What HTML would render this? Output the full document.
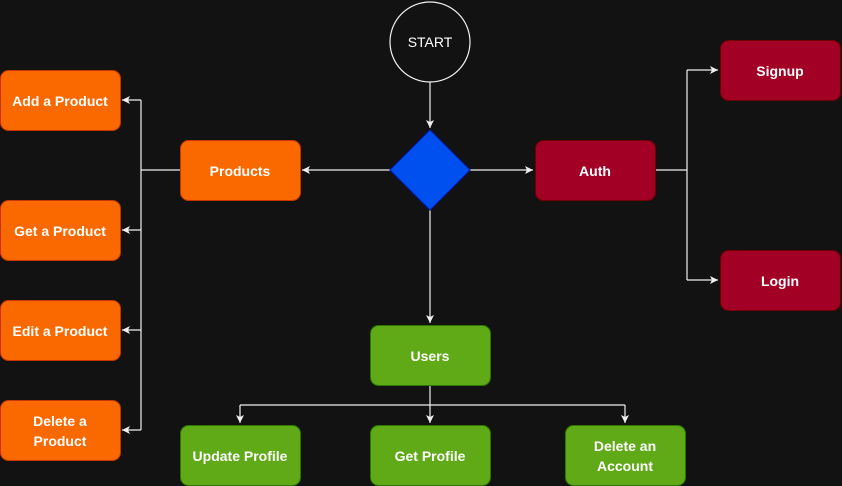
<!DOCTYPE html>
<html><head><meta charset="utf-8"><style>
html,body{margin:0;padding:0;background:#121212;}
svg{display:block}
text{font-family:"Liberation Sans",sans-serif;font-weight:bold;font-size:14px;fill:#fff;text-anchor:middle;dominant-baseline:central}
</style></head><body>
<svg width="842" height="486" viewBox="0 0 842 486" xmlns="http://www.w3.org/2000/svg">
<defs><marker id="a" markerWidth="10" markerHeight="10" refX="8" refY="5" orient="auto" markerUnits="userSpaceOnUse"><path d="M0,1 L8,5 L0,9 L2,5 Z" fill="#f0f0f0"/></marker></defs>
<rect width="842" height="486" fill="#121212"/>
<g stroke="#f0f0f0" stroke-width="1.2" fill="none">
<line x1="430" y1="82" x2="430" y2="128" marker-end="url(#a)"/>
<line x1="390" y1="170" x2="302" y2="170" marker-end="url(#a)"/>
<line x1="470" y1="170" x2="533" y2="170" marker-end="url(#a)"/>
<line x1="430" y1="210" x2="430" y2="323" marker-end="url(#a)"/>
<polyline points="180,170 141,170"/>
<line x1="141" y1="100" x2="141" y2="430"/>
<line x1="141" y1="100" x2="122" y2="100" marker-end="url(#a)"/>
<line x1="141" y1="230" x2="122" y2="230" marker-end="url(#a)"/>
<line x1="141" y1="330" x2="122" y2="330" marker-end="url(#a)"/>
<line x1="141" y1="430" x2="122" y2="430" marker-end="url(#a)"/>
<polyline points="655,170 687,170"/>
<line x1="687" y1="70" x2="687" y2="280"/>
<line x1="687" y1="70" x2="718" y2="70" marker-end="url(#a)"/>
<line x1="687" y1="280" x2="718" y2="280" marker-end="url(#a)"/>
<line x1="430" y1="385" x2="430" y2="423" marker-end="url(#a)"/>
<line x1="240" y1="405" x2="625" y2="405"/>
<line x1="240" y1="405" x2="240" y2="423" marker-end="url(#a)"/>
<line x1="625" y1="405" x2="625" y2="423" marker-end="url(#a)"/>
</g>
<circle cx="430" cy="42" r="40" fill="#121212" stroke="#f0f0f0" stroke-width="1.2"/>
<text x="430" y="42" style="font-weight:normal">START</text>
<polygon points="430,130 470,170 430,210 390,170" fill="#0050ef" stroke="#001dbc"/>
<g stroke="#c73500" fill="#fa6800">
<rect x="180.5" y="140.5" width="120" height="60" rx="8"/>
<rect x="0.5" y="70.5" width="120" height="60" rx="8"/>
<rect x="0.5" y="200.5" width="120" height="60" rx="8"/>
<rect x="0.5" y="300.5" width="120" height="60" rx="8"/>
<rect x="0.5" y="400.5" width="120" height="60" rx="8"/>
</g>
<g stroke="#6f0000" fill="#a20025">
<rect x="535.5" y="140.5" width="120" height="60" rx="8"/>
<rect x="720.5" y="40.5" width="120" height="60" rx="8"/>
<rect x="720.5" y="250.5" width="120" height="60" rx="8"/>
</g>
<g stroke="#2d7600" fill="#60a917">
<rect x="370.5" y="325.5" width="120" height="60" rx="8"/>
<rect x="180.5" y="425.5" width="120" height="60" rx="8"/>
<rect x="370.5" y="425.5" width="120" height="60" rx="8"/>
<rect x="565.5" y="425.5" width="120" height="60" rx="8"/>
</g>
<text x="240" y="171">Products</text>
<text x="60" y="101">Add a Product</text>
<text x="60" y="231">Get a Product</text>
<text x="60" y="331">Edit a Product</text>
<text x="60" y="421">Delete a</text>
<text x="60" y="441">Product</text>
<text x="595" y="171">Auth</text>
<text x="780" y="71">Signup</text>
<text x="780" y="281">Login</text>
<text x="430" y="356">Users</text>
<text x="240" y="456">Update Profile</text>
<text x="430" y="456">Get Profile</text>
<text x="625" y="446">Delete an</text>
<text x="625" y="466">Account</text>
</svg>
</body></html>
